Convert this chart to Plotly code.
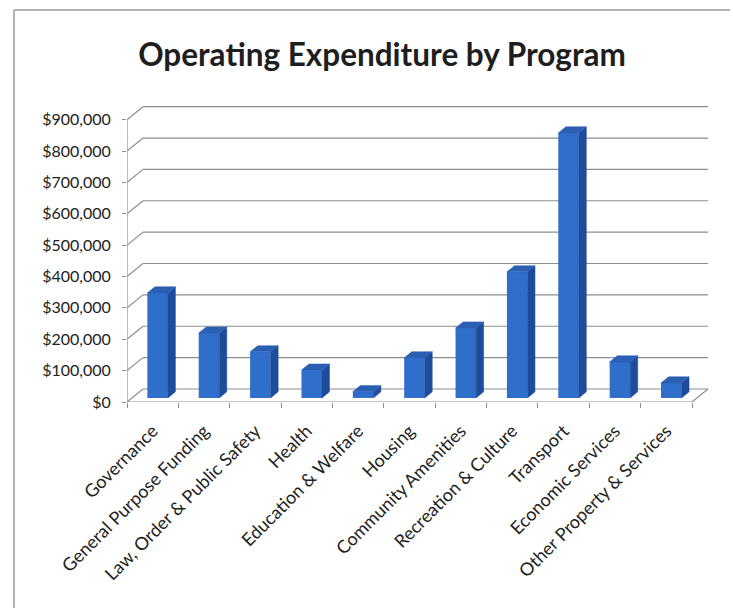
import plotly.graph_objects as go

# Operating expenditure per program (AUD)
programs = [
    "Governance", "General Purpose Funding", "Law, Order & Public Safety",
    "Health", "Education & Welfare", "Housing", "Community Amenities",
    "Recreation & Culture", "Transport", "Economic Services",
    "Other Property & Services",
]
expenditure = [335000, 207000, 147000, 89000, 20000, 128000, 223000,
               402000, 845000, 115000, 48000]
tick_values = [0, 100000, 200000, 300000, 400000, 500000, 600000,
               700000, 800000, 900000]
tick_labels = ["$0", "$100,000", "$200,000", "$300,000", "$400,000",
               "$500,000", "$600,000", "$700,000", "$800,000", "$900,000"]

# oblique projection: how far the back wall sits from the front plane
DX = 0.311          # in category units
DY = 41500          # in value units
D_FRONT, D_BACK = 0.31, 0.78   # depth of a column's front and back faces
HW = 0.2            # half width of a column

GRID = "#8e8e8e"
FRONT = "#2f6ecb"
SIDE = "#1d4d9a"
TOP = "#2a5fb4"

n = len(programs)
idx = list(range(n))
fig = go.Figure()

# wall, floor and axis lines sit underneath the columns
shapes = []
def seg(x0, y0, x1, y1):
    shapes.append(dict(type="line", xref="x", yref="y", x0=x0, y0=y0,
                       x1=x1, y1=y1, layer="below",
                       line=dict(color=GRID, width=1.2)))

for v in tick_values:
    seg(-0.5, v, -0.5 + DX, v + DY)                 # diagonal link
    seg(-0.5 + DX, v + DY, n - 0.5 + DX, v + DY)    # back wall gridline
seg(-0.5, 0, n - 0.5, 0)                            # floor front edge
seg(n - 0.5, 0, n - 0.5 + DX, DY)                   # floor right edge
seg(-0.5, 0, -0.5, tick_values[-1])                 # front value axis

# column side and top faces
for i, v in zip(idx, expenditure):
    xr1 = i + HW + D_FRONT * DX
    xr2 = i + HW + D_BACK * DX
    xl1 = i - HW + D_FRONT * DX
    xl2 = i - HW + D_BACK * DX
    y1 = D_FRONT * DY
    y2 = D_BACK * DY
    fig.add_trace(go.Scatter(
        x=[xr1, xr2, xr2, xr1, xr1], y=[y1, y2, v + y2, v + y1, y1],
        mode="lines", fill="toself", fillcolor=SIDE,
        line=dict(color=SIDE, width=0.5),
        hoverinfo="skip", showlegend=False))
    fig.add_trace(go.Scatter(
        x=[xl1, xr1, xr2, xl2, xl1], y=[v + y1, v + y1, v + y2, v + y2, v + y1],
        mode="lines", fill="toself", fillcolor=TOP,
        line=dict(color=TOP, width=0.5),
        hoverinfo="skip", showlegend=False))

# column front faces
fig.add_trace(go.Bar(
    x=idx, y=expenditure, base=D_FRONT * DY,
    width=2 * HW, offset=-HW + D_FRONT * DX,
    marker=dict(color=FRONT, line=dict(width=0)),
    showlegend=False, hovertext=programs))

ML, MR, MT, MB = 127, 23, 104, 206
W, H = 733, 608
pw, ph = W - ML - MR, H - MT - MB

# chart frame: left and top edges
frame = dict(color="#9a9a9a", width=1.5)
shapes.append(dict(type="line", xref="paper", yref="paper",
                   x0=(14 - ML) / pw, x1=(14 - ML) / pw,
                   y0=-MB / ph, y1=(H - 10 - MB) / ph, line=frame))
shapes.append(dict(type="line", xref="paper", yref="paper",
                   x0=(14 - ML) / pw, x1=(730 - ML) / pw,
                   y0=(H - 10 - MB) / ph, y1=(H - 10 - MB) / ph, line=frame))

fig.update_layout(
    width=W, height=H,
    margin=dict(l=ML, r=MR, t=MT, b=MB, autoexpand=False),
    paper_bgcolor="white", plot_bgcolor="white",
    font=dict(family="Lato, Carlito, sans-serif", color="#222222"),
    title=dict(text="<b>Operating Expenditure by Program</b>",
               x=(382 - ML) / pw, xref="paper", xanchor="center",
               y=1 - 55 / H, yanchor="middle",
               font=dict(size=31.5, color="#1e1e1e")),
    xaxis=dict(
        range=[-0.5, n - 0.5 + 0.35], showgrid=False, zeroline=False,
        showline=False, tickmode="array", tickvals=idx, ticktext=programs,
        ticks="", tickangle=-45, tickfont=dict(size=18), automargin=False,
        ticklabelstandoff=14,
        minor=dict(tickmode="array", tickvals=[i - 0.5 for i in range(n + 1)],
                   ticks="outside", ticklen=5, tickcolor=GRID, showgrid=False),
    ),
    yaxis=dict(
        range=[0, 950000], showgrid=False, zeroline=False, showline=False,
        tickmode="array", tickvals=tick_values, ticktext=tick_labels,
        ticks="outside", ticklen=4, tickcolor=GRID, automargin=False,
        tickfont=dict(size=16), ticklabelstandoff=8,
    ),
    shapes=shapes,
)

fig.write_html("out.html", config={"displayModeBar": False})
